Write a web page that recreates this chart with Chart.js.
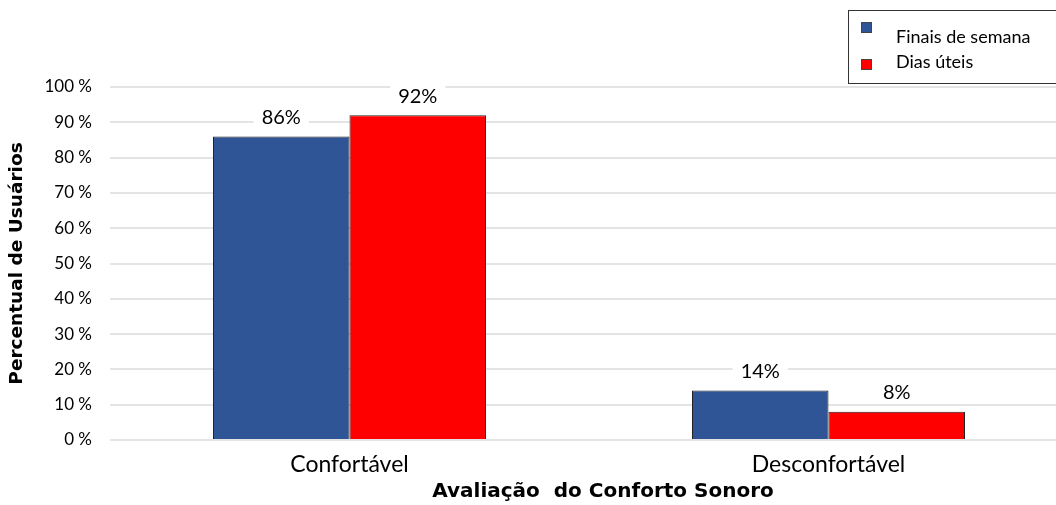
<!DOCTYPE html>
<html>
<head>
<meta charset="utf-8">
<script src="https://cdn.jsdelivr.net/npm/chart.js@4.4.1/dist/chart.umd.min.js"></script>
<style>
  html, body { margin: 0; padding: 0; background: #fff; overflow: hidden; }
  #clip { width: 1056px; height: 505px; overflow: hidden; position: relative; }
  /* a área do gráfico continua um pouco além da borda direita, como no original */
  #wrap { width: 1068px; height: 505px; position: relative; }
</style>
</head>
<body>
<div id="clip"><div id="wrap"><canvas id="chart"></canvas></div></div>
<script>
// dados do gráfico
const categories = ['Confortável', 'Desconfortável'];
const finaisDeSemana = [86, 14];
const diasUteis = [92, 8];
const seriesNames = ['Finais de semana', 'Dias úteis'];
const yTicks = [0, 10, 20, 30, 40, 50, 60, 70, 80, 90, 100];

const FONT = 'Lato, "Open Sans", sans-serif';
const TITLE_FONT = '"DejaVu Sans", "Liberation Sans", sans-serif';

// rótulos de valor acima das barras (com fundo branco sobre a grade)
const valueLabels = {
    id: 'valueLabels',
    afterDatasetsDraw(chart) {
        const ctx = chart.ctx;
        ctx.save();
        ctx.font = '20px ' + FONT;
        ctx.textAlign = 'center';
        ctx.textBaseline = 'middle';
        chart.data.datasets.forEach((ds, i) => {
            chart.getDatasetMeta(i).data.forEach((bar, j) => {
                const txt = ds.data[j] + '%';
                const w = ctx.measureText(txt).width;
                const cy = bar.y - 19;
                ctx.fillStyle = '#fff';
                ctx.fillRect(bar.x - w / 2 - 8, cy - 11, w + 16, 22);
                ctx.fillStyle = '#000';
                ctx.fillText(txt, bar.x, cy);
            });
        });
        ctx.restore();
    }
};

// legenda em caixa + título do eixo x (levemente deslocado à direita, como no original)
const boxLegend = {
    id: 'boxLegend',
    afterDraw(chart) {
        const ctx = chart.ctx;
        ctx.save();
        ctx.fillStyle = '#fff';
        ctx.fillRect(849, 11, 220, 72);
        ctx.strokeStyle = '#333';
        ctx.lineWidth = 1;
        ctx.strokeRect(848.5, 10.5, 225, 73);
        ctx.font = '18px ' + FONT;
        ctx.textBaseline = 'middle';
        const rows = [[22, 37], [59, 62]];
        chart.data.datasets.forEach((ds, i) => {
            ctx.fillStyle = ds.backgroundColor;
            ctx.fillRect(861, rows[i][0], 11, 11);
            ctx.strokeStyle = '#444';
            ctx.strokeRect(861.5, rows[i][0] + 0.5, 10, 10);
            ctx.fillStyle = '#000';
            ctx.fillText(ds.label, 896, rows[i][1]);
        });

        const area = chart.chartArea;
        ctx.font = 'bold 20px ' + TITLE_FONT;
        ctx.textAlign = 'center';
        ctx.fillText('Avaliação  do Conforto Sonoro', (area.left + area.right) / 2 + 14, 492);
        ctx.restore();
    }
};

new Chart(document.getElementById('chart'), {
    type: 'bar',
    data: {
        labels: categories,
        datasets: [
            { label: seriesNames[0], data: finaisDeSemana, backgroundColor: '#2F5597', borderColor: '#222', borderWidth: 1 },
            { label: seriesNames[1], data: diasUteis, backgroundColor: '#FF0000', borderColor: '#222', borderWidth: 1 }
        ]
    },
    options: {
        responsive: true,
        maintainAspectRatio: false,
        animation: false,
        layout: { padding: { top: 87, right: 0, left: 0, bottom: 0 } },
        categoryPercentage: 0.57,
        barPercentage: 1.0,
        scales: {
            x: {
                afterFit(axis) { axis.height = 65; },
                grid: { display: false },
                border: { display: false },
                ticks: { color: '#000', font: { family: FONT, size: 23 }, padding: 3 },
                title: { display: false }
            },
            y: {
                min: 0,
                max: 100,
                afterBuildTicks(axis) { axis.ticks = yTicks.map(v => ({ value: v })); },
                afterFit(axis) { axis.width = 110; },
                grid: { color: '#e4e4e4', lineWidth: 2, drawTicks: false },
                border: { display: false },
                ticks: {
                    color: '#000',
                    font: { family: FONT, size: 17 },
                    padding: 18,
                    callback: v => v + ' %'
                },
                title: {
                    display: true,
                    text: 'Percentual de Usuários',
                    color: '#000',
                    font: { family: TITLE_FONT, size: 18.5, weight: 'bold' },
                    padding: { top: 6, bottom: 0 }
                }
            }
        },
        plugins: {
            legend: { display: false },
            tooltip: { enabled: false }
        }
    },
    plugins: [valueLabels, boxLegend]
});
</script>
</body>
</html>
